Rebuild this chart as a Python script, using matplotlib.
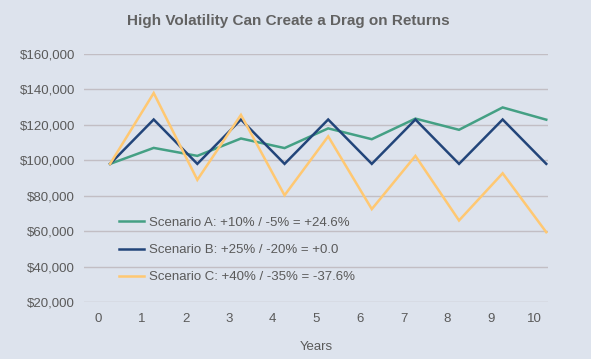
import numpy as np
import matplotlib
matplotlib.use("Agg")
import matplotlib.pyplot as plt

plt.rcParams['font.family'] = ['Liberation Sans', 'DejaVu Sans']

years = list(range(11))
scenario_a = [98000, 107000, 102500, 112300, 106900, 118000, 111900, 123500, 117200, 129800, 122900]
scenario_b = [98000, 123000, 98000, 123000, 98000, 123000, 98000, 123000, 98000, 123000, 98000]
scenario_c = [98000, 137900, 89000, 125600, 80300, 113500, 72500, 102500, 66100, 92700, 59500]
labels = ["Scenario A: +10% / -5% = +24.6%",
          "Scenario B: +25% / -20% = +0.0",
          "Scenario C: +40% / -35% = -37.6%"]
colors = ["#44a084", "#22457a", "#ffc872"]
y_ticks = [20000, 40000, 60000, 80000, 100000, 120000, 140000, 160000]

bg = "#dde3ed"
text_col = "#5a5a5a"
x_shift = 0.27  # points sit a bit right of the year labels in the original

fig = plt.figure(figsize=(5.91, 3.59), dpi=100, facecolor=bg)
ax = fig.add_axes([0.142, 0.158, 0.786, 0.692], facecolor=bg)

xs = np.array(years) + x_shift
for vals, lab, col in zip([scenario_a, scenario_b, scenario_c], labels, colors):
    ax.plot(xs, vals, color=col, lw=1.8, label=lab, solid_joinstyle='miter')

ax.set_ylim(20000, 160000)
ax.set_xlim(-0.33, 10.32)
ax.set_yticks(y_ticks)
ax.set_yticklabels(["${:,}".format(v) for v in y_ticks])
ax.set_xticks(years)
ax.set_xticklabels([str(y) for y in years])
ax.grid(axis='y', color="#c2bec4", lw=1)
ax.set_axisbelow(True)
for s in ax.spines.values():
    s.set_visible(False)
ax.tick_params(length=0, labelsize=9.5, labelcolor=text_col)
ax.tick_params(axis='y', pad=6.5)
ax.tick_params(axis='x', pad=8)

ax.set_xlabel("Years", fontsize=9.5, color=text_col, labelpad=11)
fig.text(0.487, 0.941, "High Volatility Can Create a Drag on Returns",
         ha='center', va='center', fontsize=11, fontweight='bold', color="#626262")

fig.legend(loc='center left', bbox_to_anchor=(0.2014, 0.3036), frameon=False,
           fontsize=9.5, handlelength=1.9, handletextpad=0.38, labelspacing=1.14,
           borderpad=0, borderaxespad=0, labelcolor=text_col)

fig.savefig("out.png", dpi=100, facecolor=bg)
